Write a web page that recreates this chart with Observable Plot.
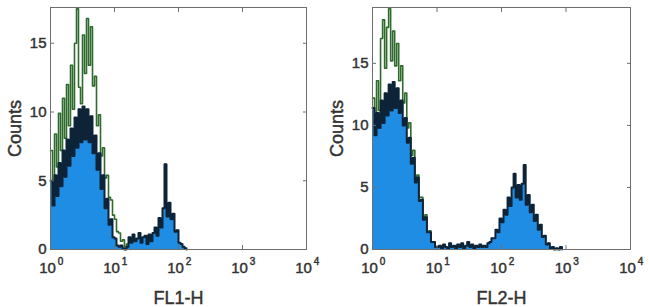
<!DOCTYPE html>
<html>
<head>
<meta charset="utf-8">
<script src="https://cdn.jsdelivr.net/npm/d3@7"></script>
<script src="https://cdn.jsdelivr.net/npm/@observablehq/plot@0.6"></script>
<style>
  html, body { margin: 0; padding: 0; background: #fff; }
  #wrap { position: relative; width: 650px; height: 307px; overflow: hidden; }
  .panel { position: absolute; top: 0; }
  svg text { font-family: "Liberation Sans", Arial, Helvetica, sans-serif; fill: #333; stroke: #333; stroke-width: 0.45px; }
  g[aria-label="x-axis label"] text, g[aria-label="y-axis label"] text { font-size: 18px; }
</style>
</head>
<body>
<div id="wrap"></div>
<script>
// ---- data (counts per 1/32-decade channel, starting at 10^0) ----
const binsPerDecade = 32;
const xTicks = [1, 10, 100, 1000, 10000];
const xTickBase = ["10", "10", "10", "10", "10"];
const xTickExponent = ["0", "1", "2", "3", "4"];
const yTicks = [0, 5, 10, 15];

// FL1-H panel
const fl1Stained = [5.0,3.2,5.4,3.9,6.3,4.6,7.2,5.3,8.0,6.1,8.8,6.8,9.6,7.4,10.2,7.8,10.4,8.0,10.2,7.8,
  9.7,7.0,8.3,5.8,7.0,4.4,5.4,3.0,3.7,1.8,2.2,0.9,0.8,0.3,0.2,0.3,0.1,0,0.2,0.9,
  0.5,1.1,0.6,0.8,1.2,0.5,0.9,1.0,0.4,1.1,0.6,1.2,1.6,1.0,2.3,1.6,3.0,6.2,2.4,3.4,
  2.2,2.6,1.3,1.4,0.5,0.4,0.2,0.1];
const fl1Control = [7.2,4.8,8.4,6.0,9.9,7.2,11.0,8.1,12.0,9.0,13.4,10.2,15.0,17.5,11.8,10.6,15.6,12.8,16.8,13.4,
  16.2,11.9,12.6,9.0,9.8,6.8,7.4,5.2,5.4,3.8,3.6,2.5,2.2,1.3,1.2,0.6,0.7,0.2,0.4,0.1];

// FL2-H panel
const fl2Stained = [11.4,9.2,11.0,9.8,12.0,10.2,12.6,10.8,13.3,11.2,13.5,11.4,13.0,11.0,12.0,10.0,10.6,8.6,9.0,6.9,
  7.4,5.4,5.8,3.9,4.0,2.4,2.6,1.4,1.4,0.6,0.6,0.2,0.2,0.3,0.1,0.4,0.2,0.1,0.5,0.2,
  0.3,0.1,0.4,0.2,0.5,0.1,0.3,0.6,0.2,0.4,0.1,0.3,0.2,0.4,0.2,0.3,0.2,0.5,0.6,0.9,
  0.9,1.6,1.4,2.5,2.2,3.2,2.8,4.2,3.5,5.0,6.1,4.2,5.2,4.0,5.3,6.8,3.6,4.4,3.0,3.6,
  2.3,2.8,1.6,2.0,1.0,1.1,0.4,0.5,0.1,0.2,0,0.1,0,0.2];
const fl2Control = [12.2,10.0,13.6,11.2,17.0,18.5,14.6,17.9,19.4,15.2,17.6,14.8,16.6,13.6,14.8,11.8,12.6,9.8,10.2,7.6,
  8.0,5.8,6.0,4.2,4.2,2.6,2.8,1.4,1.5,0.6,0.6,0.2];

const blueFill = "#1f8de4";
const darkLine = "#0d2438";
const greenLine = "#2e6b2c";
const frameGray = "#6e6e6e";

function toBins(values) {
  const rows = values.map((v, i) => ({x: Math.pow(10, i / binsPerDecade), y: v}));
  rows.push({x: Math.pow(10, values.length / binsPerDecade), y: 0});
  return rows;
}

function panel(stained, control, ymax, xlabel, ml, mr) {
  const dS = toBins(stained), dC = toBins(control);
  const baseFmt = d => xTickBase[xTicks.indexOf(d)];
  const expFmt = d => xTickExponent[xTicks.indexOf(d)];
  return Plot.plot({
    width: 325, height: 307,
    marginLeft: ml, marginRight: mr, marginTop: 7, marginBottom: 58,
    style: {background: "transparent", color: "#333", overflow: "visible"},
    x: {type: "log", domain: [1, 1e4]},
    y: {domain: [0, ymax]},
    marks: [
      Plot.lineY(dC, {x: "x", y: "y", curve: "step-after", stroke: greenLine, strokeWidth: 1.6}),
      Plot.areaY(dS, {x: "x", y: "y", curve: "step-after", fill: blueFill}),
      Plot.lineY(dS, {x: "x", y: "y", curve: "step-after", stroke: darkLine, strokeWidth: 2}),
      Plot.frame({stroke: frameGray}),
      Plot.axisX({ticks: xTicks, tickSize: -4, tickFormat: () => "", label: null, stroke: frameGray}),
      Plot.axisX({anchor: "top", ticks: xTicks, tickSize: -4, tickFormat: () => "", label: null, stroke: frameGray}),
      Plot.axisY({ticks: yTicks, tickSize: -4, tickFormat: () => "", label: null, stroke: frameGray}),
      Plot.axisY({anchor: "right", ticks: yTicks, tickSize: -4, tickFormat: () => "", label: null, stroke: frameGray}),
      Plot.axisX({ticks: xTicks, tickSize: 0, tickPadding: 13, tickFormat: baseFmt, fontSize: 15, dx: -3,
        label: xlabel, labelAnchor: "center", labelOffset: 54, labelArrow: "none"}),
      Plot.axisX({ticks: xTicks, tickSize: 0, tickPadding: 8, tickFormat: expFmt, fontSize: 10, dx: 10, label: null}),
      Plot.axisY({ticks: yTicks, tickSize: 0, tickPadding: 4, fontSize: 15,
        label: "Counts", labelAnchor: "center", labelOffset: 42, labelArrow: "none"})
    ]
  });
}

const wrap = document.getElementById("wrap");
const left = panel(fl1Stained, fl1Control, 17.6, "FL1-H", 50, 19);
const right = panel(fl2Stained, fl2Control, 19.5, "FL2-H", 47, 20);
const dl = document.createElement("div"); dl.className = "panel"; dl.style.left = "0px"; dl.appendChild(left);
const dr = document.createElement("div"); dr.className = "panel"; dr.style.left = "325px"; dr.appendChild(right);
wrap.appendChild(dl); wrap.appendChild(dr);
</script>
</body>
</html>
